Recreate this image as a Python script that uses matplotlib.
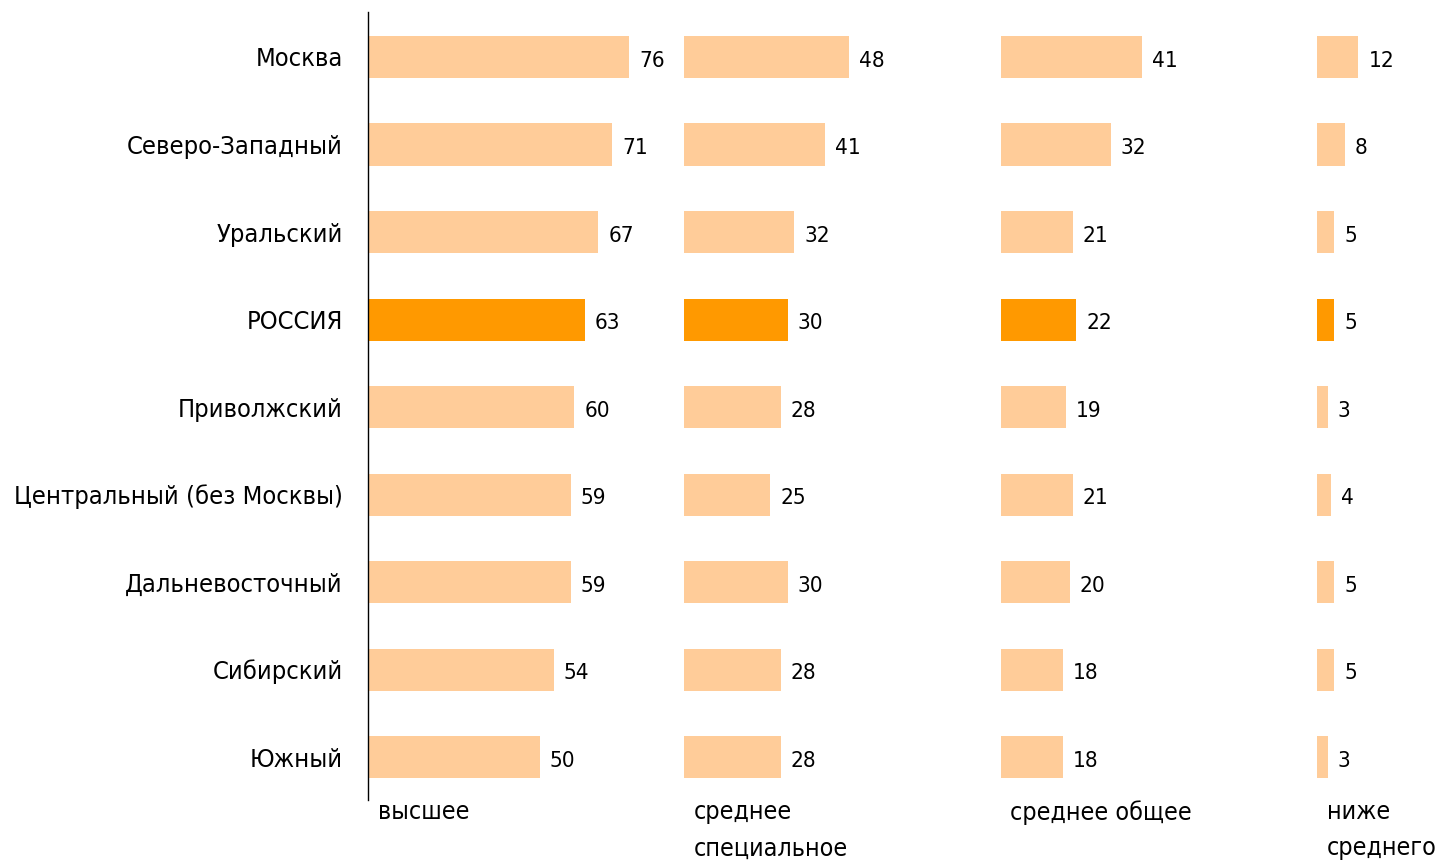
import matplotlib.pyplot as plt
import numpy as np
from matplotlib import font_manager
from matplotlib.ft2font import FT2Font

regions = ["Москва", "Северо-Западный", "Уральский", "РОССИЯ", "Приволжский",
           "Центральный (без Москвы)", "Дальневосточный", "Сибирский", "Южный"]
groups = ["высшее", "среднее\nспециальное", "среднее общее", "ниже\nсреднего"]

higher = [76, 71, 67, 63, 60, 59, 59, 54, 50]
special = [48, 41, 32, 30, 28, 25, 30, 28, 28]
general = [41, 32, 21, 22, 19, 21, 20, 18, 18]
below = [12, 8, 5, 5, 3, 4, 5, 5, 3]

highlight = "РОССИЯ"


def has_cyrillic(path):
    try:
        cmap = FT2Font(path).get_charmap()
    except Exception:
        return False
    return all(ord(c) in cmap for c in "ЖцыЮ")


# prefer a condensed face with Cyrillic if one is installed, otherwise Lato
cands = []
for f in font_manager.fontManager.ttflist:
    narrow = ("Condensed" in f.name or "Narrow" in f.name
              or str(f.stretch) in ("condensed", "semi-condensed", "extra-condensed"))
    if narrow and f.style == "normal" and has_cyrillic(f.fname):
        cands.append(f)
cands.sort(key=lambda f: (f.name, f.weight))
if cands:
    fprop = font_manager.FontProperties(fname=cands[0].fname)
else:
    fprop = font_manager.FontProperties(family="Lato")

fig = plt.figure(figsize=(14.41, 8.66), dpi=100)
ax = fig.add_axes([368 / 1441, 1 - 800 / 866, 1 - 368 / 1441, (800 - 12) / 866])

# fit the longest region label to the width it takes in the reference
renderer = fig.canvas.get_renderer()
probe = fig.text(0, 0, regions[5], fontproperties=fprop, fontsize=20)
w = probe.get_window_extent(renderer).width
probe.remove()
label_size = min(22, 20 * 329 / w)
value_size = label_size * 0.88


def fp(size):
    p = fprop.copy()
    p.set_size(size)
    return p


gap = 92
y = np.arange(len(regions))
colors = ["#FF9900" if r == highlight else "#FFCC99" for r in regions]

for k, vals in enumerate([higher, special, general, below]):
    off = k * gap
    ax.barh(y, vals, left=off, height=0.48, color=colors)
    for yi, v in zip(y, vals):
        ax.text(off + v + 2.9, yi + 0.02, str(v), va="center_baseline", ha="left",
                fontproperties=fp(value_size))
    ax.text(off + 2.8, 8.49, groups[k], va="top", ha="left",
            fontproperties=fp(label_size * 0.98), linespacing=1.65)

ax.set_xlim(0, 312)
ax.set_ylim(8.49, -0.514)
ax.set_yticks(y)
ax.set_yticklabels(regions, fontproperties=fp(label_size))
ax.tick_params(axis="y", length=0, pad=18)
ax.set_xticks([])
for s in ["top", "right", "bottom"]:
    ax.spines[s].set_visible(False)
ax.spines["left"].set_linewidth(1)

fig.savefig("out.png", dpi=100)
